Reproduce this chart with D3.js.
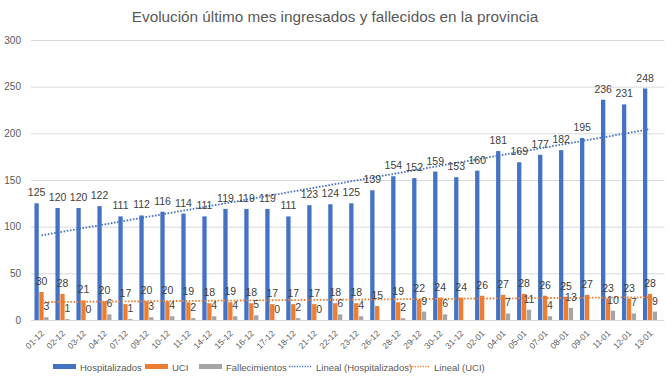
<!DOCTYPE html>
<html><head><meta charset="utf-8">
<script src="https://cdn.jsdelivr.net/npm/d3@7"></script>
<style>body{margin:0;background:#fff}svg{display:block}</style>
</head><body>
<svg id="c" width="670" height="377"></svg>
<script>
const categories = ["01-12","02-12","03-12","04-12","07-12","09-12","10-12","11-12","14-12","15-12","16-12","17-12","18-12","21-12","22-12","23-12","26-12","28-12","29-12","30-12","31-12","02-01","04-01","05-01","07-01","08-01","09-01","11-01","12-01","13-01"];
const hospitalizados = [125,120,120,122,111,112,116,114,111,119,119,119,111,123,124,125,139,154,152,159,153,160,181,169,177,182,195,236,231,248];
const uci = [30,28,21,20,17,20,20,19,18,19,18,17,17,17,18,18,15,19,22,24,24,26,27,28,26,25,27,23,23,28];
const fallecimientos = [3,1,0,6,1,3,4,2,4,4,5,0,2,0,6,4,null,2,9,6,null,null,7,11,4,13,null,10,7,9];
const yTicks = [0,50,100,150,200,250,300];
const seriesNames = ["Hospitalizados","UCI","Fallecimientos"];
const colors = ["#4472C4","#ED7D31","#A5A5A5"];
const title = "Evolución último mes ingresados y fallecidos en la provincia";

const svg = d3.select("#c");
const L = 31, R = 660.5, T = 40, B = 320;
const y = d3.scaleLinear().domain([0,300]).range([B,T]);
const x0 = d3.scaleBand().domain(categories).range([L,R]).paddingInner(0.33).paddingOuter(0.165);
const x1 = d3.scaleBand().domain([0,1,2]).range([0,x0.bandwidth()]).paddingInner(0.12);

// title
svg.append("text").attr("x",335).attr("y",22).attr("text-anchor","middle")
  .attr("font-family","Liberation Sans, Arial, sans-serif").attr("font-size",15.3).attr("fill","#595959").text(title);

// gridlines
const yAxis = d3.axisLeft(y).tickValues(yTicks).tickSize(-(R-L+4)).tickPadding(10);
const gy = svg.append("g").attr("transform",`translate(${L},0)`).call(yAxis);
gy.select(".domain").remove();
gy.selectAll(".tick line").attr("stroke","#D9D9D9").attr("stroke-width",1);
gy.selectAll(".tick text").attr("font-family","Liberation Sans, Arial, sans-serif").attr("font-size",10).attr("fill","#595959");

// bars
const seriesData = [hospitalizados, uci, fallecimientos];
const groups = svg.append("g");
seriesData.forEach((arr, si) => {
  const g = groups.append("g");
  g.selectAll("rect").data(arr.map((v,i)=>({v,i})).filter(d=>d.v!==null)).enter().append("rect")
    .attr("x", d=>x0(categories[d.i]) + x1(si))
    .attr("width", x1.bandwidth())
    .attr("y", d=>y(d.v))
    .attr("height", d=>B - y(d.v))
    .attr("fill", colors[si]);
});

// x axis
const xAxis = d3.axisBottom(x0).tickSize(0).tickPadding(0);
const gx = svg.append("g").attr("transform",`translate(0,${B})`).call(xAxis);
gx.select(".domain").attr("stroke","#D9D9D9");
gx.selectAll(".tick text").attr("font-family","Liberation Sans, Arial, sans-serif").attr("font-size",8.5).attr("fill","#595959")
  .attr("text-anchor","end").attr("dy",0).attr("y",0)
  .attr("transform","translate(3,14) rotate(-45)");

// trendlines (linear regression over index)
function regress(arr){
  const pts = arr.map((v,i)=>[i+1,v]).filter(p=>p[1]!==null);
  const mx = d3.mean(pts,p=>p[0]), my = d3.mean(pts,p=>p[1]);
  const b = d3.sum(pts,p=>(p[0]-mx)*(p[1]-my))/d3.sum(pts,p=>(p[0]-mx)**2);
  return i => my + b*(i+1-mx);
}
const cx = c => x0(c) + x0.bandwidth()/2;
[[hospitalizados,colors[0]],[uci,colors[1]]].forEach(([arr,col])=>{
  const f = regress(arr);
  svg.append("line").attr("x1",cx(categories[0])).attr("x2",cx(categories[categories.length-1]))
    .attr("y1",y(f(0))).attr("y2",y(f(categories.length-1)))
    .attr("stroke",col).attr("stroke-width",1.8).attr("stroke-dasharray","1.6,1.6");
});

// data labels
const lbl = svg.append("g").attr("font-family","Liberation Sans, Arial, sans-serif").attr("font-size",10.5).attr("fill","#404040").attr("text-anchor","middle");
seriesData.forEach((arr, si) => {
  lbl.selectAll(null).data(arr.map((v,i)=>({v,i})).filter(d=>d.v!==null)).enter().append("text")
    .attr("x", d=>x0(categories[d.i]) + x1(si) + x1.bandwidth()/2)
    .attr("y", d=>y(d.v) - 7)
    .text(d=>d.v);
});

// legend
const legendItems = [
  {name:"Hospitalizados", col:colors[0], type:"rect", x:53},
  {name:"UCI", col:colors[1], type:"rect", x:145},
  {name:"Fallecimientos", col:colors[2], type:"rect", x:199},
  {name:"Lineal (Hospitalizados)", col:colors[0], type:"dot", x:289},
  {name:"Lineal (UCI)", col:colors[1], type:"dot", x:407}
];
const lg = svg.append("g");
const ly = 367;
legendItems.forEach(it=>{
  if(it.type==="rect"){
    lg.append("rect").attr("x",it.x).attr("y",ly-3).attr("width",23).attr("height",5).attr("fill",it.col);
  } else {
    lg.append("line").attr("x1",it.x).attr("x2",it.x+23).attr("y1",ly-0.5).attr("y2",ly-0.5)
      .attr("stroke",it.col).attr("stroke-width",1.5).attr("stroke-dasharray","1.3,1.3");
  }
  lg.append("text").attr("x",it.x+27).attr("y",ly+3.5).attr("font-family","Liberation Sans, Arial, sans-serif")
    .attr("font-size",9.5).attr("fill","#595959").text(it.name);
});
</script>
</body></html>
